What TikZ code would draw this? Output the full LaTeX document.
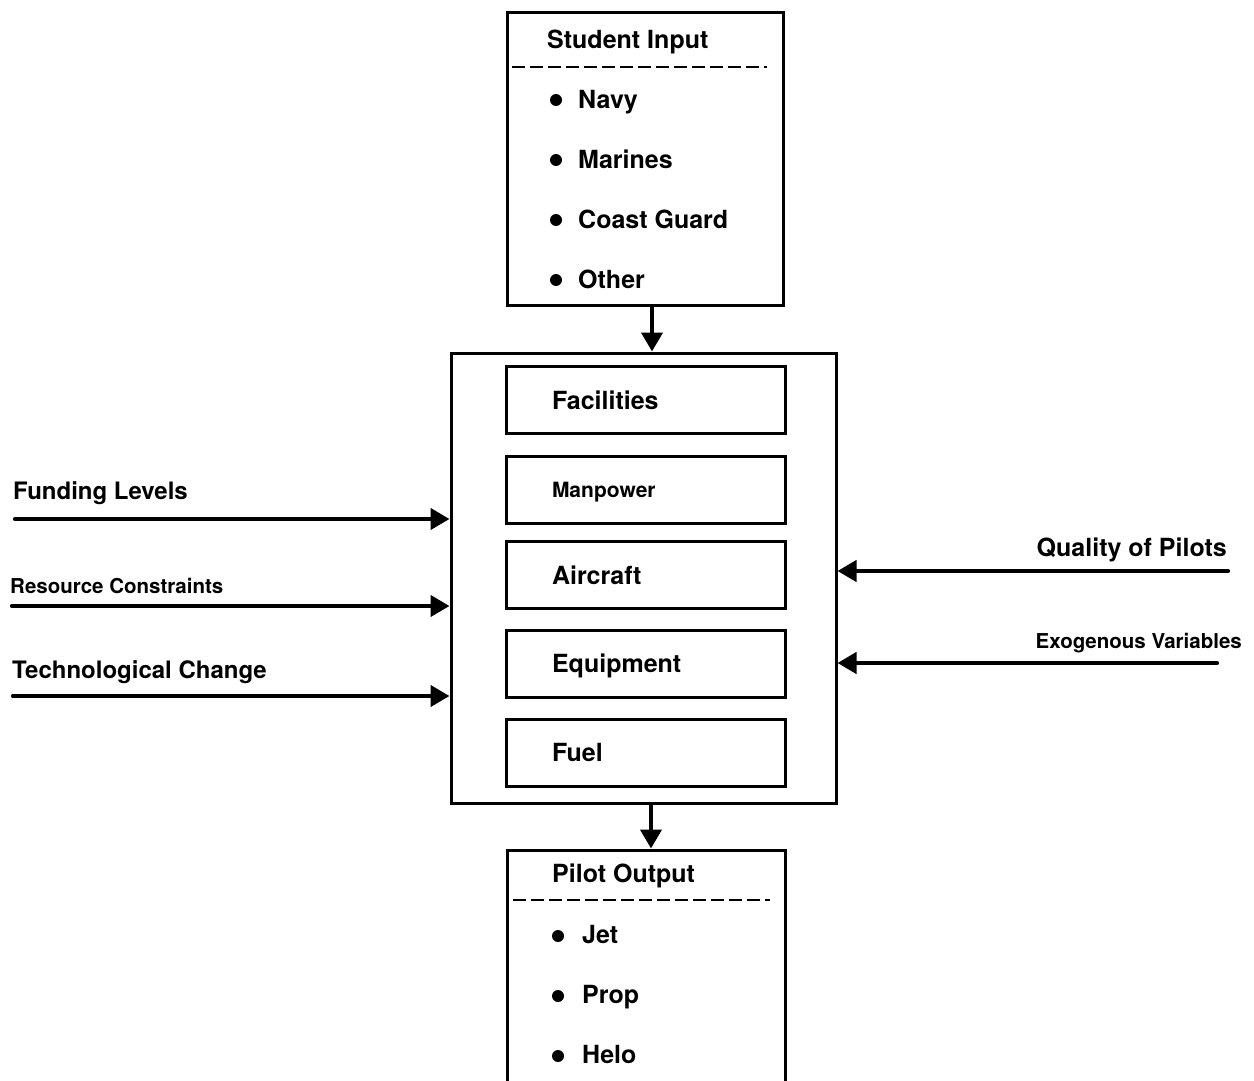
\documentclass[tikz,border=0pt]{standalone}
\usepackage{fontspec}
\setmainfont{TeX Gyre Heros}
\usetikzlibrary{arrows.meta}

\newcommand{\bigbold}{\fontsize{25}{30}\selectfont\bfseries}
\newcommand{\sidebold}{\fontsize{24}{29}\selectfont\bfseries}
\newcommand{\smallbold}{\fontsize{20.5}{25}\selectfont\bfseries}

\begin{document}
\begin{tikzpicture}[x=1pt,y=1pt,yscale=-1,xscale=1,
    box/.style={draw, line width=3pt, inner sep=0pt},
    part/.style={draw, line width=3pt, minimum height=67pt, text width=187pt, inner xsep=46pt, inner ysep=0pt, align=left, text height=18pt, text depth=0pt, font=\bigbold},
    lbl/.style={inner sep=0pt, font=\bigbold},
    sidelbl/.style={inner sep=0pt, font=\sidebold},
    smalllbl/.style={inner sep=0pt, font=\smallbold},
    dot/.style={circle, fill, inner sep=0pt, minimum size=12pt},
    flow/.style={line width=4.2pt, line cap=round, -{Triangle[length=19pt,width=21pt]}},
    dashline/.style={line width=2pt, dash pattern=on 13pt off 5pt}]
        \useasboundingbox (0,0) rectangle (1254,1081);
        \clip (0,0) rectangle (1254,1081);

        %Shape: Rectangle
        \node (input) [box, minimum width=276pt, minimum height=292pt] at (645,159) {};
        %Shape: Rectangle
        \node (proc) [box, minimum width=385pt, minimum height=450pt] at (643.5,578) {};
        %Shape: Rectangle
        \node (output) [box, minimum width=278pt, minimum height=250pt] at (646,975) {};

        % Text Node
        \node (inputtitle) [lbl, anchor=base west] at (547,49) {Student Input};
        %Straight Lines
        \draw [dashline] (512,67) -- (767,67);
        \node (navydot) [dot] at (556,100) {};
        \node (navy) [lbl, anchor=base west] at (578,108) {Navy};
        \node (marinesdot) [dot] at (556,160) {};
        \node (marines) [lbl, anchor=base west] at (578,168) {Marines};
        \node (guarddot) [dot] at (556,220) {};
        \node (guard) [lbl, anchor=base west] at (578,228) {Coast Guard};
        \node (otherdot) [dot] at (556,280) {};
        \node (other) [lbl, anchor=base west] at (578,288) {Other};

        %Shape: Rectangle
        \node (facilities) [part] at (645.5,400) {Facilities};
        \node (manpower) [part, font=\fontsize{21}{25}\selectfont\bfseries, text height=15pt] at (645.5,490) {Manpower};
        \node (aircraft) [part] at (645.5,575) {Aircraft};
        \node (equipment) [part] at (645.5,663.5) {Equipment};
        \node (fuel) [part] at (645.5,752.5) {Fuel};

        %Straight Lines
        \draw [flow] ([xshift=7pt]input.south) -- ([xshift=7pt]input.south |- proc.north);
        \draw [flow] ([xshift=7.5pt]proc.south) -- ([xshift=7.5pt]proc.south |- output.north);

        % Text Node
        \node (outputtitle) [lbl, anchor=base west] at (552,882) {Pilot Output};
        %Straight Lines
        \draw [dashline] (513,900) -- (770,900);
        \node (jetdot) [dot] at (558,936) {};
        \node (jet) [lbl, anchor=base west] at (582,943) {Jet};
        \node (propdot) [dot] at (558,996) {};
        \node (prop) [lbl, anchor=base west] at (582,1003) {Prop};
        \node (helodot) [dot] at (558,1056) {};
        \node (helo) [lbl, anchor=base west] at (582,1063) {Helo};

        % Text Node
        \node (funding) [sidelbl, anchor=base west] at (13,499) {Funding Levels};
        \node (resource) [smalllbl, anchor=base west] at (10,593) {Resource Constraints};
        \node (techchange) [sidelbl, anchor=base west] at (12,678) {Technological Change};
        \node (quality) [lbl, anchor=base east] at (1227,556) {Quality of Pilots};
        \node (exogenous) [smalllbl, anchor=base east] at (1242,648) {Exogenous Variables};

        %Straight Lines
        \coordinate (fundingstart) at (15,519);
        \draw [flow] (fundingstart) -- (fundingstart -| proc.west);
        \coordinate (resourcestart) at (12,606);
        \draw [flow] (resourcestart) -- (resourcestart -| proc.west);
        \coordinate (techstart) at (13,696);
        \draw [flow] (techstart) -- (techstart -| proc.west);
        \coordinate (qualitystart) at (1228,571);
        \draw [flow] (qualitystart) -- (qualitystart -| proc.east);
        \coordinate (exogenousstart) at (1217,663);
        \draw [flow] (exogenousstart) -- (exogenousstart -| proc.east);

\end{tikzpicture}
\end{document}
